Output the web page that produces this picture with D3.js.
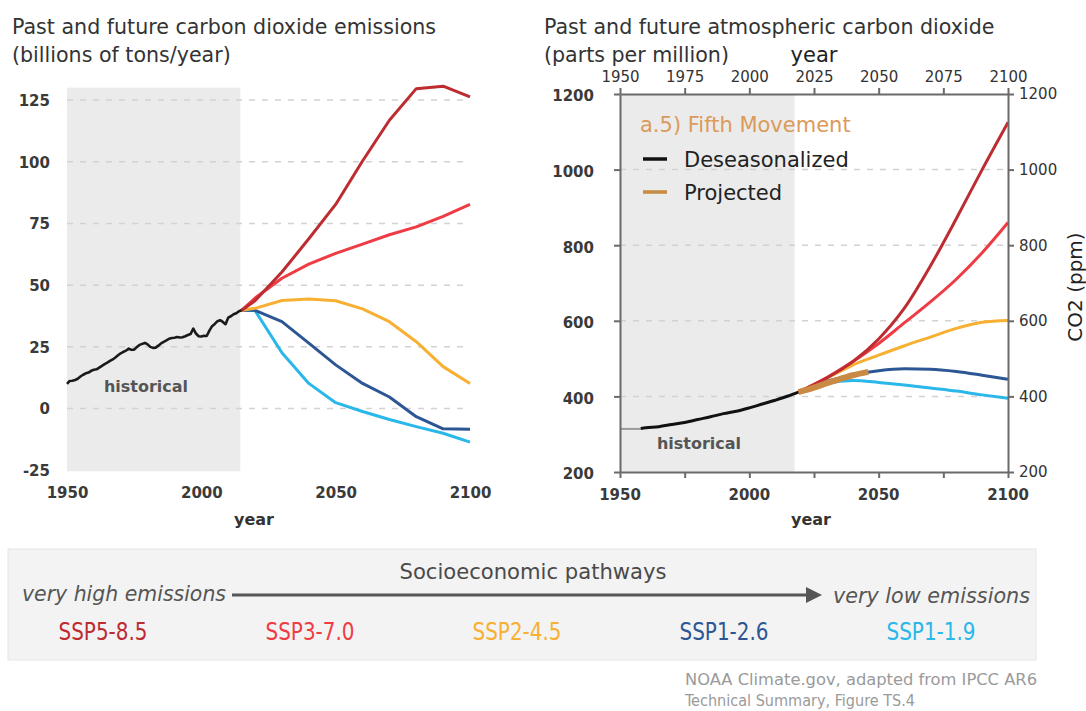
<!DOCTYPE html>
<html>
<head>
<meta charset="utf-8">
<script src="https://cdn.jsdelivr.net/npm/d3@7"></script>
<style>
  html, body { margin: 0; padding: 0; background: #fff; }
  svg { display: block; }
</style>
</head>
<body>
<svg id="fig" width="1086" height="711"></svg>
<script>
// ---------- emissions panel data (billions of tons CO2 / year) ----------
const histYears = [1950,1951,1952,1953,1954,1955,1956,1957,1958,1959,1960,1961,1962,1963,1964,1965,1966,1967,1968,1969,1970,1971,1972,1973,1974,1975,1976,1977,1978,1979,1980,1981,1982,1983,1984,1985,1986,1987,1988,1989,1990,1991,1992,1993,1994,1995,1996,1997,1998,1999,2000,2001,2002,2003,2004,2005,2006,2007,2008,2009,2010,2011,2012,2013,2014,2015];
const histEmissions = [10.0,11.2,11.3,11.6,12.1,13.0,13.7,14.3,14.6,15.3,15.7,15.9,16.6,17.3,18.0,18.6,19.3,19.9,20.7,21.6,22.4,23.0,23.5,24.3,23.8,23.9,24.9,25.8,26.2,26.6,26.0,25.0,24.6,24.7,25.5,26.4,27.0,27.6,28.3,28.6,28.7,29.0,28.8,28.9,29.3,29.8,30.2,32.4,30.4,29.3,29.2,29.5,29.4,31.6,33.4,34.3,35.4,35.8,35.1,34.2,36.8,37.4,38.2,38.6,39.4,39.8];

const scenYears = [2015,2020,2030,2040,2050,2060,2070,2080,2090,2100];
const emisSSP585 = [39.8,43.7,55.3,68.8,82.7,100.3,116.8,129.6,130.6,126.3];
const emisSSP370 = [39.8,44.8,52.8,58.5,62.9,66.6,70.4,73.6,77.9,82.7];
const emisSSP245 = [39.8,40.6,43.8,44.4,43.7,40.4,35.2,27.1,17.0,10.2];
const emisSSP126 = [39.8,39.8,35.2,26.5,17.7,10.2,4.7,-3.3,-8.2,-8.4];
const emisSSP119 = [39.8,39.7,22.6,10.2,2.4,-1.2,-4.4,-7.3,-10.0,-13.6];

const emisTicks = [-25,0,25,50,75,100,125];
const emisGrid = [0,25,50,75,100,125];
const yearTicksMain = [1950,2000,2050,2100];

// ---------- concentration panel data (ppm) ----------
const preRecordYears = [1950,1958];
const preRecordPpm = [314,314];
const maunaYears = [1958,1960,1965,1970,1975,1980,1985,1990,1995,2000,2005,2010,2015,2019];
const maunaPpm = [315.0,316.9,320.0,325.7,331.1,338.8,346.1,354.4,360.8,369.7,379.8,389.9,401.0,411.4];
const projYears = [2019,2025,2030,2035,2040,2046];
const projPpm = [411.4,423,435,446,456,465];

const concYears = [2019,2030,2040,2050,2060,2070,2080,2090,2100];
const concSSP585 = [411.4,449,492,552,634,745,870,1000,1125];
const concSSP370 = [411.4,450,492,540,595,650,710,780,860];
const concSSP245 = [411.4,448,483,509,534,557,580,596,601];
const concSSP126 = [411.4,440,457,468,473,472,466,456,445];
const concSSP119 = [411.4,435,442,437,430,422,414,404,395];

const ppmTicks = [200,400,600,800,1000,1200];
const ppmGrid = [400,600,800,1000];
const yearTicksTop = [1950,1975,2000,2025,2050,2075,2100];

// ---------- pathway legend ----------
const pathwayNames = ["SSP5-8.5","SSP3-7.0","SSP2-4.5","SSP1-2.6","SSP1-1.9"];
const pathwayColors = ["#bd2c31","#ef3b44","#f7b032","#2d5694","#2ab7e9"];

const svg = d3.select("#fig");
const sans = "'DejaVu Sans', Verdana, sans-serif";
const narrow = "'Liberation Sans Narrow', 'DejaVu Sans Condensed', sans-serif";
const plain = d => String(d);

// ================= left panel: emissions =================
const xE = d3.scaleLinear().domain([1950, 2100]).range([67, 470]);
const yE = d3.scaleLinear().domain([-25, 125]).range([470.3, 100]);

const left = svg.append("g");
left.append("text").attr("x", 12).attr("y", 34)
  .style("font-family", sans).style("font-size", "20.6px").attr("fill", "#333")
  .text("Past and future carbon dioxide emissions");
left.append("text").attr("x", 12).attr("y", 62)
  .style("font-family", sans).style("font-size", "20.6px").attr("fill", "#333")
  .text("(billions of tons/year)");

// shaded historical period
left.append("rect")
  .attr("x", xE(1950)).attr("y", yE(130))
  .attr("width", xE(2014.5) - xE(1950)).attr("height", yE(-25.4) - yE(130))
  .attr("fill", "#ebebeb");

left.append("g").selectAll("line").data(emisGrid).join("line")
  .attr("x1", xE(1950)).attr("x2", xE(2100))
  .attr("y1", d => yE(d)).attr("y2", d => yE(d))
  .attr("stroke", "#d2d2d2").attr("stroke-width", 1.5).attr("stroke-dasharray", "6,7");

// axes: labels only, no domain lines
const leftAxis = left.append("g").attr("transform", "translate(50,0)")
  .call(d3.axisLeft(yE).tickValues(emisTicks).tickFormat(plain).tickSize(0).tickPadding(0));
const bottomAxis = left.append("g").attr("transform", "translate(0,487)")
  .call(d3.axisBottom(xE).tickValues(yearTicksMain).tickFormat(plain).tickSize(0).tickPadding(0));
[leftAxis, bottomAxis].forEach(a => {
  a.select(".domain").remove();
  a.selectAll("text").style("font-family", sans).style("font-weight", "bold")
    .style("font-size", "15px").attr("fill", "#3a3a3a");
});
leftAxis.selectAll("text").attr("dy", "0.36em");

left.append("text").attr("x", 254).attr("y", 525).attr("text-anchor", "middle")
  .style("font-family", sans).style("font-weight", "bold").style("font-size", "16px").attr("fill", "#333")
  .text("year");
left.append("text").attr("x", 146).attr("y", 392).attr("text-anchor", "middle")
  .style("font-family", sans).style("font-weight", "bold").style("font-size", "16px").attr("fill", "#555")
  .text("historical");

const lineE = d3.line().x(d => xE(d[0])).y(d => yE(d[1]));
const emisSeries = [emisSSP119, emisSSP126, emisSSP245, emisSSP370, emisSSP585];
const emisColors = [pathwayColors[4], pathwayColors[3], pathwayColors[2], pathwayColors[1], pathwayColors[0]];
emisSeries.forEach((vals, i) => {
  left.append("path").datum(d3.zip(scenYears, vals)).attr("d", lineE)
    .attr("fill", "none").attr("stroke", emisColors[i]).attr("stroke-width", 3)
    .attr("stroke-linejoin", "round");
});
left.append("path").datum(d3.zip(histYears, histEmissions)).attr("d", lineE)
  .attr("fill", "none").attr("stroke", "#1a1a1a").attr("stroke-width", 2.6).attr("stroke-linejoin", "round");

// ================= right panel: concentration =================
const xC = d3.scaleLinear().domain([1950, 2100]).range([620, 1008]);
const yC = d3.scaleLinear().domain([200, 1200]).range([472, 94]);
const right = svg.append("g");

right.append("text").attr("x", 544).attr("y", 34)
  .style("font-family", sans).style("font-size", "20.6px").attr("fill", "#333")
  .text("Past and future atmospheric carbon dioxide");
right.append("text").attr("x", 544).attr("y", 62)
  .style("font-family", sans).style("font-size", "20.6px").attr("fill", "#333")
  .text("(parts per million)");
right.append("text").attr("x", 814).attr("y", 62).attr("text-anchor", "middle")
  .style("font-family", sans).style("font-size", "21px").attr("fill", "#222")
  .text("year");

right.append("rect")
  .attr("x", xC(1950)).attr("y", yC(1200))
  .attr("width", xC(2017.5) - xC(1950)).attr("height", yC(200) - yC(1200))
  .attr("fill", "#ebebeb");

right.append("g").selectAll("line").data(ppmGrid).join("line")
  .attr("x1", xC(1950)).attr("x2", xC(2100))
  .attr("y1", d => yC(d)).attr("y2", d => yC(d))
  .attr("stroke", "#d2d2d2").attr("stroke-width", 1.5).attr("stroke-dasharray", "6,7");

const lineC = d3.line().x(d => xC(d[0])).y(d => yC(d[1])).curve(d3.curveMonotoneX);
const concSeries = [concSSP119, concSSP126, concSSP245, concSSP370, concSSP585];
concSeries.forEach((vals, i) => {
  right.append("path").datum(d3.zip(concYears, vals)).attr("d", lineC)
    .attr("fill", "none").attr("stroke", emisColors[i]).attr("stroke-width", 3);
});
right.append("path").datum(d3.zip(preRecordYears, preRecordPpm)).attr("d", lineC)
  .attr("fill", "none").attr("stroke", "#9a9a9a").attr("stroke-width", 2);
right.append("path").datum(d3.zip(maunaYears, maunaPpm)).attr("d", lineC)
  .attr("fill", "none").attr("stroke", "#111").attr("stroke-width", 3);
right.append("path").datum(d3.zip(projYears, projPpm)).attr("d", lineC)
  .attr("fill", "none").attr("stroke", "#c98a44").attr("stroke-width", 6).attr("stroke-linecap", "butt");

// framed axes
const axColor = "#6a6a6a";
const axB = right.append("g").attr("transform", `translate(0,${yC(200)})`)
  .call(d3.axisBottom(xC).tickValues(yearTicksTop).tickFormat("").tickSizeInner(6).tickSizeOuter(0));
const axT = right.append("g").attr("transform", `translate(0,${yC(1200)})`)
  .call(d3.axisTop(xC).tickValues(yearTicksTop).tickFormat(plain).tickSizeInner(6).tickSizeOuter(0).tickPadding(6));
const axL = right.append("g").attr("transform", `translate(${xC(1950)},0)`)
  .call(d3.axisLeft(yC).tickValues(ppmTicks).tickFormat("").tickSizeInner(6).tickSizeOuter(0));
const axR = right.append("g").attr("transform", `translate(${xC(2100)},0)`)
  .call(d3.axisRight(yC).tickValues(ppmTicks).tickFormat(plain).tickSizeInner(6).tickSizeOuter(0).tickPadding(5));
[axB, axT, axL, axR].forEach(a => {
  a.select(".domain").attr("stroke", axColor).attr("stroke-width", 2);
  a.selectAll(".tick line").attr("stroke", axColor).attr("stroke-width", 2);
  a.selectAll("text").style("font-family", sans).style("font-size", "15px").attr("fill", "#333");
});

// bold outer labels left and bottom
right.append("g").selectAll("text").data(ppmTicks).join("text")
  .attr("x", 594).attr("y", d => yC(d) + 2).attr("dy", "0.36em").attr("text-anchor", "end")
  .style("font-family", sans).style("font-weight", "bold").style("font-size", "15px").attr("fill", "#3a3a3a")
  .text(d => d);
right.append("g").selectAll("text").data(yearTicksMain).join("text")
  .attr("x", d => xC(d)).attr("y", 500).attr("text-anchor", "middle")
  .style("font-family", sans).style("font-weight", "bold").style("font-size", "15px").attr("fill", "#3a3a3a")
  .text(d => d);
right.append("text").attr("x", 811).attr("y", 525).attr("text-anchor", "middle")
  .style("font-family", sans).style("font-weight", "bold").style("font-size", "16px").attr("fill", "#333")
  .text("year");
right.append("text").attr("x", 699).attr("y", 449).attr("text-anchor", "middle")
  .style("font-family", sans).style("font-weight", "bold").style("font-size", "16px").attr("fill", "#555")
  .text("historical");
right.append("text").attr("transform", "translate(1082,287) rotate(-90)").attr("text-anchor", "middle")
  .style("font-family", sans).style("font-size", "20px").attr("fill", "#222")
  .text("CO2 (ppm)");

// legend
right.append("text").attr("x", 640).attr("y", 132)
  .style("font-family", sans).style("font-size", "21px").attr("fill", "#dc9a5a")
  .text("a.5) Fifth Movement");
const legendItems = [["Deseasonalized", "#111"], ["Projected", "#c98a44"]];
legendItems.forEach(([label, color], i) => {
  const yy = 159 + i * 33;
  right.append("line").attr("x1", 643).attr("x2", 667).attr("y1", yy).attr("y2", yy)
    .attr("stroke", color).attr("stroke-width", 3.5);
  right.append("text").attr("x", 684).attr("y", yy + 7.5)
    .style("font-family", sans).style("font-size", "21px").attr("fill", "#222")
    .text(label);
});

// ================= pathway key =================
const key = svg.append("g");
key.append("rect").attr("x", 8).attr("y", 549).attr("width", 1028).attr("height", 111)
  .attr("fill", "#f3f3f3").attr("stroke", "#e6e6e6").attr("stroke-width", 1);
key.append("text").attr("x", 533).attr("y", 579).attr("text-anchor", "middle")
  .style("font-family", narrow).style("font-size", "22px").attr("fill", "#4a4a4a")
  .attr("textLength", 267).attr("lengthAdjust", "spacingAndGlyphs")
  .text("Socioeconomic pathways");
key.append("text").attr("x", 22).attr("y", 601)
  .style("font-family", narrow).style("font-style", "italic").style("font-size", "22px").attr("fill", "#555")
  .attr("textLength", 204).attr("lengthAdjust", "spacingAndGlyphs")
  .text("very high emissions");
key.append("text").attr("x", 833).attr("y", 603)
  .style("font-family", narrow).style("font-style", "italic").style("font-size", "22px").attr("fill", "#555")
  .attr("textLength", 197).attr("lengthAdjust", "spacingAndGlyphs")
  .text("very low emissions");
key.append("line").attr("x1", 232).attr("x2", 808).attr("y1", 595).attr("y2", 595)
  .attr("stroke", "#555").attr("stroke-width", 3);
key.append("path").attr("d", "M806,587 L822,595 L806,603 Z").attr("fill", "#555");

const keyX = d3.scalePoint().domain(pathwayNames).range([103, 931]);
key.selectAll("text.ssp").data(pathwayNames).join("text").attr("class", "ssp")
  .attr("x", d => keyX(d)).attr("y", 640).attr("text-anchor", "middle")
  .style("font-family", narrow).style("font-size", "24px")
  .attr("fill", (d, i) => pathwayColors[i])
  .attr("textLength", 89).attr("lengthAdjust", "spacingAndGlyphs")
  .text(d => d);

svg.append("text").attr("x", 685).attr("y", 685)
  .style("font-family", narrow).style("font-size", "16px").attr("fill", "#9a9a9a")
  .attr("textLength", 352).attr("lengthAdjust", "spacingAndGlyphs")
  .text("NOAA Climate.gov, adapted from IPCC AR6");
svg.append("text").attr("x", 685).attr("y", 706)
  .style("font-family", narrow).style("font-size", "16px").attr("fill", "#9a9a9a")
  .attr("textLength", 230).attr("lengthAdjust", "spacingAndGlyphs")
  .text("Technical Summary, Figure TS.4");
</script>
</body>
</html>
